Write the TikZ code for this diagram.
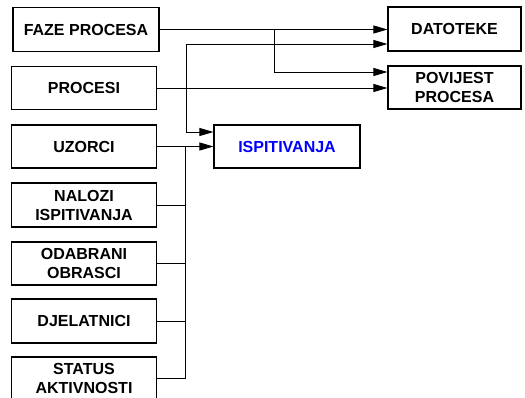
\documentclass[tikz,border=0pt]{standalone}
\usepackage{fontspec}
\setmainfont{Liberation Sans}
\usetikzlibrary{arrows.meta}
\begin{document}
\begin{tikzpicture}[x=1pt,y=-1pt,
  box/.style={draw,line width=1.1pt,minimum height=43pt,inner sep=0pt,align=center,
    font=\fontsize{16}{19}\selectfont\bfseries},
  lbox/.style={box,minimum width=145pt},
  rbox/.style={box,minimum width=133pt},
  arr/.style={line width=0.9pt,-{Triangle[length=14pt,width=8pt]}},
  ln/.style={line width=0.9pt}]
\useasboundingbox (0,0) rectangle (525,398);
\node[box,minimum width=146pt,minimum height=44pt] (faze) at (86,29.5) {FAZE PROCESA};
\node[lbox] (proc) at (84,88) {PROCESI};
\node[lbox] (uzo) at (84,146.5) {UZORCI};
\node[lbox,minimum height=44pt] (nal) at (84,205) {NALOZI\\ISPITIVANJA};
\node[lbox] (oda) at (84,263.5) {ODABRANI\\OBRASCI};
\node[lbox,minimum height=44pt] (dje) at (84,321) {DJELATNICI};
\node[lbox] (sta) at (84,378.5) {STATUS\\AKTIVNOSTI};
\node[rbox,minimum height=44pt] (dat) at (454.5,29) {DATOTEKE};
\node[rbox] (pov) at (454.5,87.5) {POVIJEST\\PROCESA};
\node[box,minimum width=146pt,text=blue] (isp) at (287,146.5) {ISPITIVANJA};
\coordinate (j1) at (274,72);
\coordinate (j2) at (186.5,44);
\coordinate (j3) at (186.5,132);
\coordinate (j4) at (185,146.5);
\draw[arr] (faze.east) -- (faze.east -| dat.west);
\draw[arr] (faze.east) -| (j1) -- (j1 -| pov.west);
\draw[arr] (proc.east) -- (proc.east -| pov.west);
\draw[arr] (proc.east) -| (j2) -- (j2 -| dat.west);
\draw[arr] (proc.east) -| (j3) -- (j3 -| isp.west);
\draw[arr] (uzo.east) -- (uzo.east -| isp.west);
\draw[ln] (nal.east) -| (j4);
\draw[ln] (oda.east) -| (j4);
\draw[ln] (dje.east) -| (j4);
\draw[ln] (sta.east) -| (j4);
\end{tikzpicture}
\end{document}
